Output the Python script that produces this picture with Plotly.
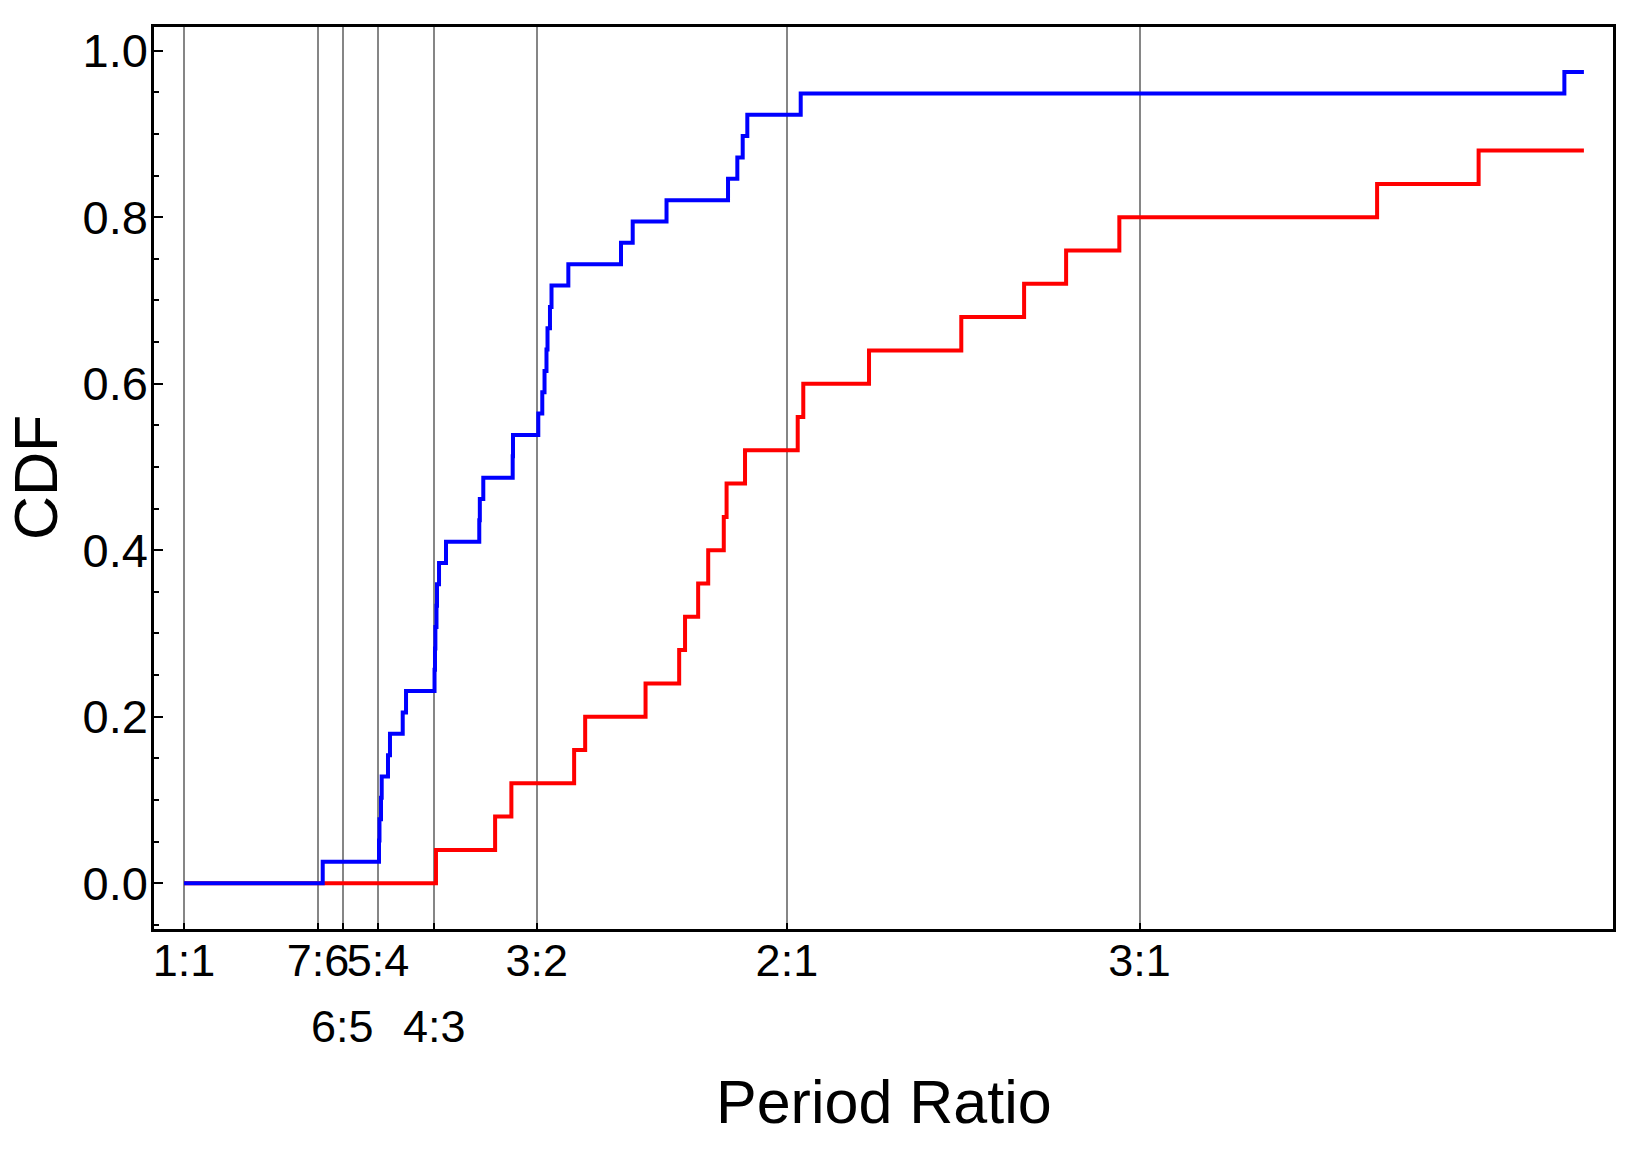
import plotly.graph_objects as go
import numpy as np

# Resonance markers (period ratios) and labels
res_values = [1.0, 7/6, 6/5, 5/4, 4/3, 3/2, 2.0, 3.0]
res_labels_row1 = ["1:1", "7:6", "", "5:4", "", "3:2", "2:1", "3:1"]
res_labels_row2 = {"6:5": 6/5, "4:3": 4/3}

# Sorted period ratios (only those visible below 5)
blue_ratios = [1.1729, 1.2513, 1.2520, 1.2542, 1.2552, 1.2643, 1.2672, 1.2859, 1.2908,
               1.3338, 1.3345, 1.3351, 1.3368, 1.3376, 1.3407, 1.3515,
               1.4042, 1.4051, 1.4107, 1.4592, 1.4597, 1.5028, 1.5097, 1.5136, 1.5170,
               1.5188, 1.5231, 1.5258, 1.5556, 1.6527, 1.6751, 1.7415, 1.8691, 1.8892,
               1.9009, 1.9110, 2.0320, 4.889]
blue_total = 39

red_ratios = [1.336, 1.430, 1.457, 1.566, 1.586, 1.700, 1.767, 1.779, 1.806, 1.827,
              1.860, 1.866, 1.906, 2.025, 2.038, 2.198, 2.444, 2.627, 2.757, 2.931,
              3.942, 4.430]
red_total = 25

x_start, x_end = 1.0, 5.0


def step_xy(ratios, total):
    xs = [x_start] + list(ratios) + [x_end]
    ys = [0.0] + [(i + 1) / total for i in range(len(ratios))]
    ys = ys + [ys[-1]]
    return xs, ys


fig = go.Figure()
rx, ry = step_xy(red_ratios, red_total)
bx, by = step_xy(blue_ratios, blue_total)
fig.add_trace(go.Scatter(x=rx, y=ry, mode="lines", line=dict(color="#ff0000", width=4, shape="hv"),
                         showlegend=False))
fig.add_trace(go.Scatter(x=bx, y=by, mode="lines", line=dict(color="#0000ff", width=4, shape="hv"),
                         showlegend=False))

font_family = "Liberation Sans, Arial, sans-serif"
tick_size = 45
ytick_size = 47

plot_top, plot_bottom = 27, 929


def paper_y(px):
    return (plot_bottom - px) / (plot_bottom - plot_top)


fig.update_layout(
    width=1642, height=1159,
    margin=dict(l=154, r=29, t=27, b=230),
    paper_bgcolor="white", plot_bgcolor="white",
    font=dict(family=font_family, color="black", size=tick_size),
    xaxis=dict(
        type="log",
        range=[-0.01498, 0.7135],
        tickmode="array",
        tickvals=res_values,
        ticktext=res_labels_row1,
        tickangle=0,
        ticklabelstandoff=-10,
        showgrid=True, gridcolor="#868686", gridwidth=2,
        showline=True, linecolor="black", linewidth=2.5, mirror=True,
        ticks="inside", ticklen=6, tickwidth=2, tickcolor="black",
        tickfont=dict(size=tick_size, family=font_family),
        zeroline=False,
    ),
    yaxis=dict(
        range=[-0.055, 1.0285],
        tickmode="array",
        tickvals=[0, 0.2, 0.4, 0.6, 0.8, 1.0],
        ticktext=["0.0", "0.2", "0.4", "0.6", "0.8", "1.0"],
        ticklabelstandoff=-6,
        showgrid=False,
        showline=True, linecolor="black", linewidth=2.5, mirror=True,
        ticks="inside", ticklen=9, tickwidth=2, tickcolor="black",
        minor=dict(tickvals=list(np.round(np.arange(-0.05, 1.01, 0.05), 2)), ticks="inside",
                   ticklen=5, tickwidth=2, tickcolor="black"),
        tickfont=dict(size=ytick_size, family=font_family),
        zeroline=False,
    ),
)

for lab, val in res_labels_row2.items():
    fig.add_annotation(x=np.log10(val), y=paper_y(1026), xref="x", yref="paper", text=lab,
                       showarrow=False, font=dict(size=tick_size, family=font_family),
                       xanchor="center", yanchor="middle")

fig.add_annotation(x=0.5, y=paper_y(1102), xref="paper", yref="paper", text="Period Ratio",
                   showarrow=False, font=dict(size=61, family=font_family),
                   xanchor="center", yanchor="middle")

plot_left, plot_right = 154, 1642 - 29
fig.add_annotation(x=(36 - plot_left) / (plot_right - plot_left), y=paper_y(478),
                   xref="paper", yref="paper", text="CDF", textangle=-90,
                   showarrow=False, font=dict(size=61, family=font_family),
                   xanchor="center", yanchor="middle")

fig.write_html("out.html")
